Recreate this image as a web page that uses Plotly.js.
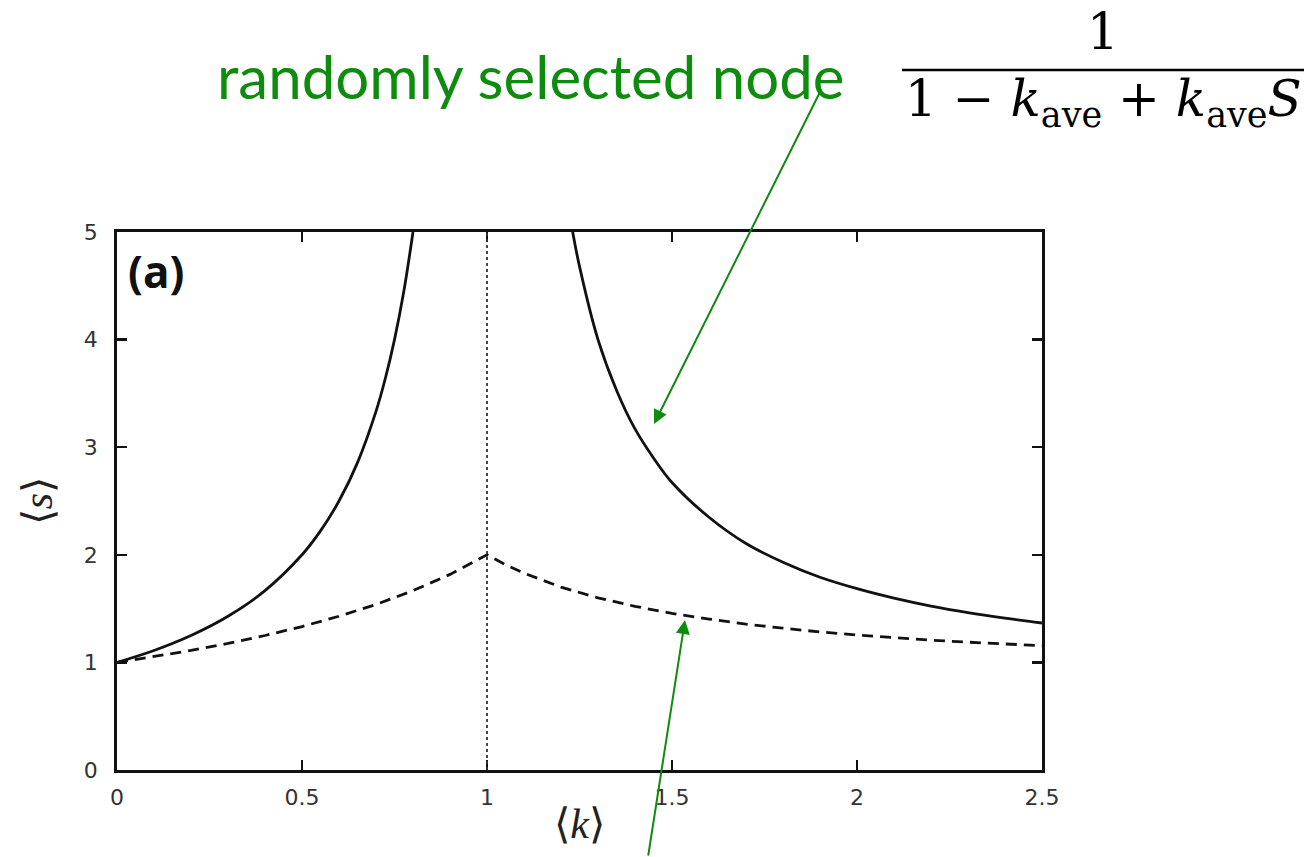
<!DOCTYPE html>
<html>
<head>
<meta charset="utf-8">
<script src="https://cdn.plot.ly/plotly-3.0.1.min.js"></script>
<style>
  html, body { margin: 0; padding: 0; background: #fff; }
  #plot { width: 1307px; height: 857px; }
</style>
</head>
<body>
<div id="plot"></div>
<script>
// Mean cluster size <s> against mean degree <k>
// solid: randomly selected node, below and above the threshold
const kSolidLow = [0, 0.1, 0.2, 0.3, 0.4, 0.5, 0.55, 0.6, 0.65, 0.7, 0.725, 0.75, 0.775, 0.8];
const sSolidLow = [1, 1.111, 1.25, 1.429, 1.667, 2, 2.222, 2.5, 2.857, 3.333, 3.636, 4, 4.444, 5];

const kSolidHigh = [1.23, 1.25, 1.3, 1.35, 1.4, 1.45, 1.5, 1.6, 1.7, 1.8, 1.9, 2.0, 2.1, 2.2, 2.3, 2.4, 2.5];
const sSolidHigh = [5.03, 4.68, 4.0, 3.53, 3.17, 2.90, 2.672, 2.349, 2.105, 1.931, 1.791, 1.685, 1.597, 1.523, 1.462, 1.411, 1.366];

// dashed: second curve, peaking at the threshold
const kDashed = [0, 0.1, 0.2, 0.3, 0.4, 0.5, 0.6, 0.7, 0.8, 0.9, 1.0, 1.05, 1.1, 1.2, 1.3, 1.4, 1.5, 1.6, 1.7, 1.8, 1.9, 2.0, 2.1, 2.2, 2.3, 2.4, 2.5];
const sDashed = [1, 1.053, 1.111, 1.176, 1.25, 1.333, 1.429, 1.538, 1.667, 1.818, 2.0, 1.908, 1.829, 1.700, 1.600, 1.521, 1.455, 1.403, 1.356, 1.318, 1.283, 1.255, 1.230, 1.207, 1.188, 1.170, 1.155];

const xTicks = [0, 0.5, 1, 1.5, 2, 2.5];
const xTickText = ['0', '0.5', '1', '1.5', '2', '2.5'];
const yTicks = [0, 1, 2, 3, 4, 5];
const threshold = 1;

const lineStyle = {color: '#111', width: 2.8};
const traces = [
  {x: kSolidLow, y: sSolidLow, mode: 'lines', line: Object.assign({}, lineStyle, {shape: 'spline'}), hoverinfo: 'skip'},
  {x: kSolidHigh, y: sSolidHigh, mode: 'lines', line: Object.assign({}, lineStyle, {shape: 'spline'}), hoverinfo: 'skip'},
  {x: kDashed, y: sDashed, mode: 'lines', line: Object.assign({}, lineStyle, {dash: '11px,7px'}), hoverinfo: 'skip'}
];

const green = '#0d8c0d';
const axisCommon = {
  showline: true, linecolor: '#111', linewidth: 2.8, mirror: 'ticks',
  ticks: 'inside', ticklen: 10, tickwidth: 2.4, tickcolor: '#111',
  showgrid: false, zeroline: false, fixedrange: true
};

const layout = {
  width: 1307, height: 857,
  margin: {l: 117, r: 265, t: 232, b: 87},
  paper_bgcolor: '#fff', plot_bgcolor: '#fff',
  showlegend: false,
  xaxis: Object.assign({}, axisCommon, {
    range: [0, 2.5], tickvals: xTicks, ticktext: xTickText, ticklabelstandoff: 6,
    tickfont: {family: 'DejaVu Sans, sans-serif', size: 22, color: '#333'},
    title: {text: '⟨<i>k</i>⟩', font: {family: 'Liberation Serif, serif', size: 42, color: '#222'}, standoff: 0}
  }),
  yaxis: Object.assign({}, axisCommon, {
    range: [0, 5], tickvals: yTicks, ticklabelstandoff: 12,
    tickfont: {family: 'DejaVu Sans, sans-serif', size: 22, color: '#333'},
    title: {text: '⟨<i>s</i>⟩', font: {family: 'Liberation Serif, serif', size: 42, color: '#222'}, standoff: 18}
  }),
  shapes: [
    {type: 'line', xref: 'x', yref: 'y', x0: threshold, x1: threshold, y0: 0, y1: 5,
     line: {color: '#333', width: 1.8, dash: 'dot'}},
    // fraction bar of the formula
    {type: 'line', xref: 'paper', yref: 'paper',
     x0: (902 - 117) / 925, x1: (1304 - 117) / 925, y0: (770 - 70) / 538, y1: (770 - 70) / 538,
     line: {color: '#000', width: 2.4}}
  ],
  annotations: [
    {text: '<b>(a)</b>', xref: 'paper', yref: 'paper', x: 0.01, y: 0.928, xanchor: 'left', yanchor: 'middle',
     showarrow: false, font: {family: 'Open Sans, sans-serif', size: 44, color: '#111'}},
    {text: 'randomly selected node', xref: 'paper', yref: 'paper',
     x: (531 - 117) / 925, y: (770 - 76) / 538, xanchor: 'center', yanchor: 'middle',
     showarrow: false, font: {family: 'Lato, sans-serif', size: 60, color: green}},
    {text: '1', xref: 'paper', yref: 'paper', x: (1103 - 117) / 925, y: (770 - 32) / 538,
     xanchor: 'center', yanchor: 'middle', showarrow: false,
     font: {family: 'DejaVu Serif, serif', size: 50, color: '#000'}},
    {text: '1 − <i>k</i><sub>ave</sub> + <i>k</i><sub>ave</sub><i>S</i>', xref: 'paper', yref: 'paper',
     x: (1103 - 117) / 925, y: (770 - 102) / 538, xanchor: 'center', yanchor: 'middle', showarrow: false,
     font: {family: 'DejaVu Serif, serif', size: 50, color: '#000'}},
    // arrow to the solid curve
    {text: '', xref: 'paper', yref: 'paper', x: (654 - 117) / 925, y: (770 - 424) / 538,
     axref: 'pixel', ayref: 'pixel', ax: 822 - 654, ay: 88 - 424,
     showarrow: true, arrowhead: 2, arrowsize: 1.4, arrowwidth: 2, arrowcolor: green},
    // arrow to the dashed curve
    {text: '', xref: 'paper', yref: 'paper', x: (685 - 117) / 925, y: (770 - 620) / 538,
     axref: 'pixel', ayref: 'pixel', ax: 648 - 685, ay: 870 - 620,
     showarrow: true, arrowhead: 2, arrowsize: 1.4, arrowwidth: 2, arrowcolor: green}
  ]
};

Plotly.newPlot('plot', traces, layout, {staticPlot: true, displayModeBar: false});
</script>
</body>
</html>
